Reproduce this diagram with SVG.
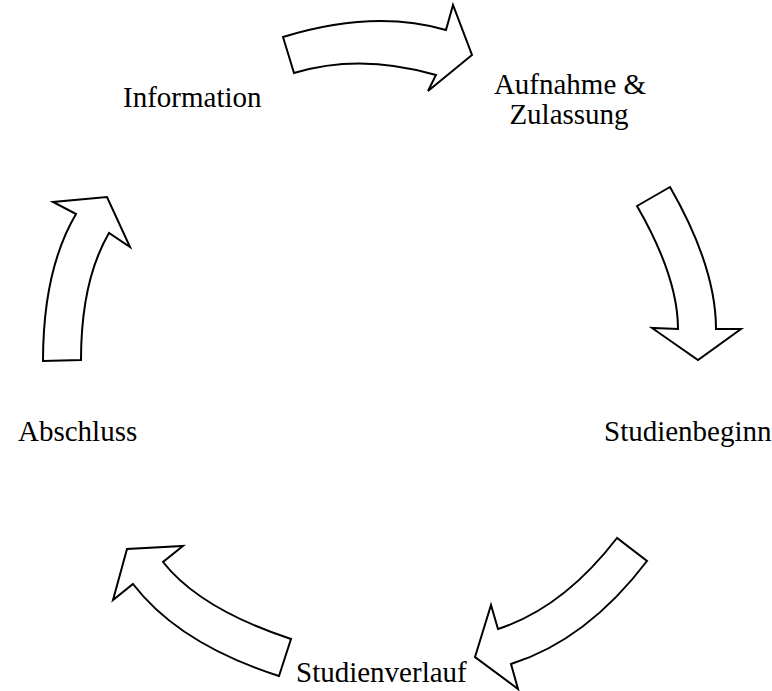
<svg xmlns="http://www.w3.org/2000/svg" width="772" height="691" viewBox="0 0 772 691">
<style>
.arrow{fill:#fff;stroke:#000;stroke-width:2;stroke-linejoin:miter}
.lbl{font-family:"Liberation Serif","Times New Roman",serif;font-size:29px;fill:#000}
</style>
<rect width="772" height="691" fill="#fff"/>
<g id="connectors">
<path id="arrow-info-aufnahme" class="arrow" d="M283,37 Q374,9 446,30 L453,5 L472,55 L428,91 L436,75 Q360,53 294,73 Z"/>
<path id="arrow-aufnahme-studienbeginn" class="arrow" d="M670,187 Q716,267 716,329 L741,329 L698,360 L652,328 L678,329 Q678,277 637,206 Z"/>
<path id="arrow-studienbeginn-studienverlauf" class="arrow" d="M617,538 Q563,608 498,629 L491,605 L475,657 L518,689 L511,664 Q587,640 647,561 Z"/>
<path id="arrow-studienverlauf-abschluss" class="arrow" d="M291,639 Q200,609 163,562 L183,546 L127,549 L113,600 L133,584 Q179,644 279,676 Z"/>
<path id="arrow-abschluss-info" class="arrow" d="M43,361 Q43,270 76,214 L53,202 L107,197 L130,247 L109,233 Q81,281 81,360 Z"/>
</g>
<g id="node-information"><text class="lbl" x="123" y="107">Information</text></g>
<g id="node-aufnahme"><text class="lbl" x="570" y="94" text-anchor="middle">Aufnahme &amp;</text><text class="lbl" x="569" y="124" text-anchor="middle">Zulassung</text></g>
<g id="node-studienbeginn"><text class="lbl" x="604" y="441">Studienbeginn</text></g>
<g id="node-studienverlauf"><text class="lbl" x="296" y="682">Studienverlauf</text></g>
<g id="node-abschluss"><text class="lbl" x="18" y="441">Abschluss</text></g>
</svg>
